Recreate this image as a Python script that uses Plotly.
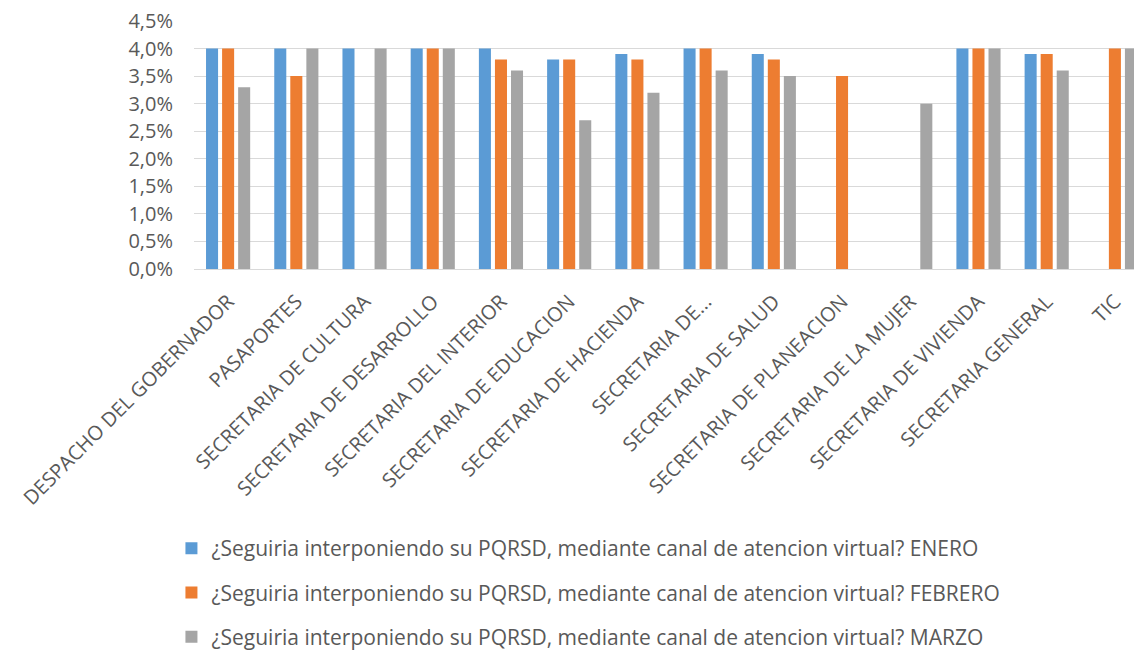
import plotly.graph_objects as go

# Dependencias evaluadas
categorias = [
    "DESPACHO DEL GOBERNADOR",
    "PASAPORTES",
    "SECRETARIA DE CULTURA",
    "SECRETARIA DE DESARROLLO",
    "SECRETARIA DEL INTERIOR",
    "SECRETARIA DE EDUCACION",
    "SECRETARIA DE HACIENDA",
    "SECRETARIA DE...",
    "SECRETARIA DE SALUD",
    "SECRETARIA DE PLANEACION",
    "SECRETARIA DE LA MUJER",
    "SECRETARIA DE VIVIENDA",
    "SECRETARIA GENERAL",
    "TIC",
]

# Calificación promedio por mes (fracción; None = sin dato)
enero = [0.040, 0.040, 0.040, 0.040, 0.040, 0.038, 0.039, 0.040, 0.039, None, None, 0.040, 0.039, None]
febrero = [0.040, 0.035, None, 0.040, 0.038, 0.038, 0.038, 0.040, 0.038, 0.035, None, 0.040, 0.039, 0.040]
marzo = [0.033, 0.040, 0.040, 0.040, 0.036, 0.027, 0.032, 0.036, 0.035, None, 0.030, 0.040, 0.036, 0.040]

pregunta = "¿Seguiria interponiendo su PQRSD, mediante canal de atencion virtual?"
series = [
    (f"{pregunta} ENERO", enero, "#5B9BD5"),
    (f"{pregunta} FEBRERO", febrero, "#ED7D31"),
    (f"{pregunta} MARZO", marzo, "#A5A5A5"),
]

TEXTO = "#595959"
FUENTE = "'Open Sans', Lato, sans-serif"

fig = go.Figure()
for i, (nombre, valores, color) in enumerate(series):
    fig.add_trace(go.Bar(
        x=categorias,
        y=valores,
        name=nombre,
        marker=dict(color=color, line=dict(width=0)),
        legendgroup=f"g{i}",
    ))

fig.update_layout(
    width=1134,
    height=658,
    barmode="group",
    bargap=0.294,
    bargroupgap=0.25,
    separators=",.",
    paper_bgcolor="white",
    plot_bgcolor="white",
    margin=dict(l=194, r=0, t=21, b=389),
    font=dict(family=FUENTE, color=TEXTO, size=19),
    showlegend=True,
    legend=dict(
        orientation="v",
        x=-0.024,
        xanchor="left",
        y=-1.565,
        yanchor="bottom",
        font=dict(size=21, color=TEXTO),
        tracegroupgap=14,
        bgcolor="rgba(0,0,0,0)",
    ),
    xaxis=dict(
        type="category",
        range=[-0.5, 13.28],
        tickangle=-45,
        tickfont=dict(size=20, color=TEXTO),
        showgrid=False,
        showline=True,
        linecolor="#D9D9D9",
        linewidth=1,
        ticks="",
        ticklabelstandoff=12,
        automargin=False,
    ),
    yaxis=dict(
        range=[0, 0.045],
        dtick=0.005,
        tickformat=".1%",
        tickfont=dict(size=20, color=TEXTO),
        showgrid=True,
        gridcolor="#D9D9D9",
        gridwidth=1,
        zeroline=False,
        showline=False,
        ticks="",
        ticklabelstandoff=20,
        automargin=False,
    ),
)

fig.write_html("out.html")
